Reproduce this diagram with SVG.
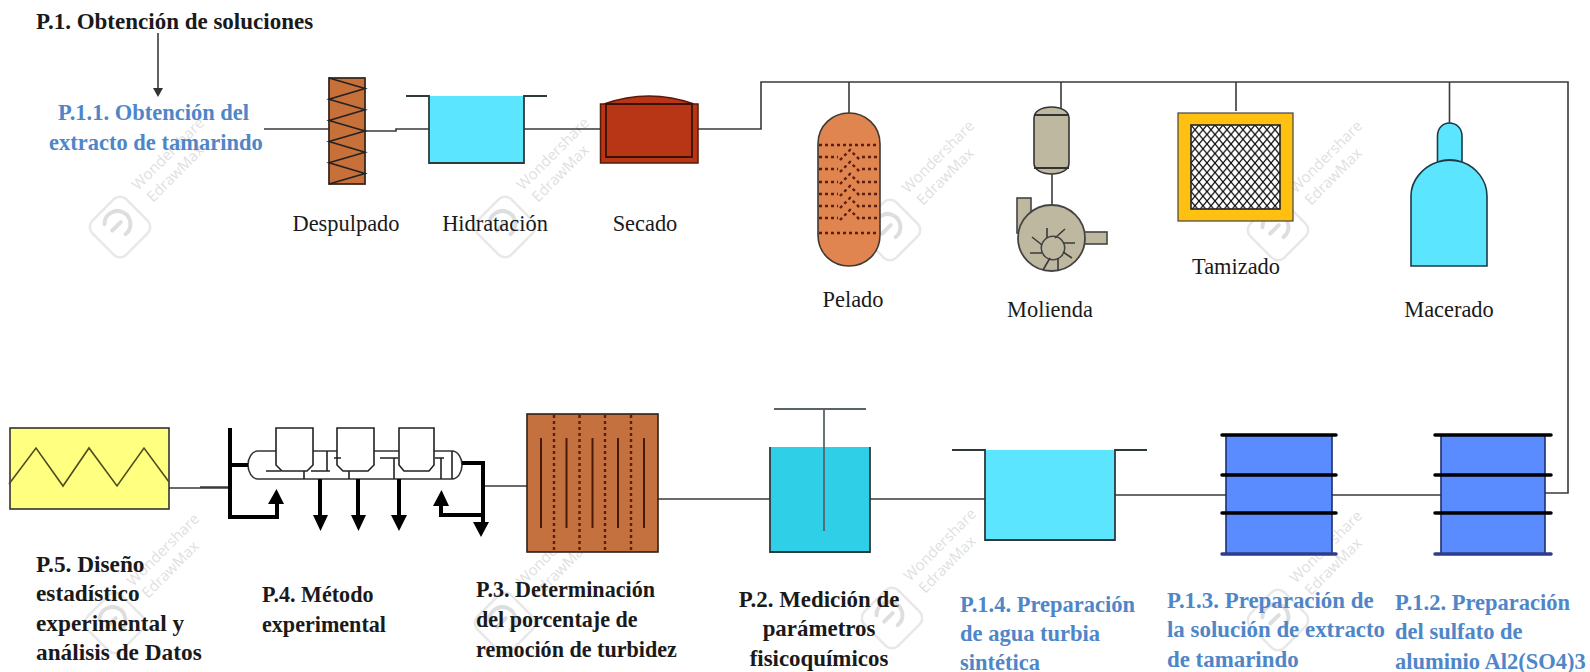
<svg xmlns="http://www.w3.org/2000/svg" xmlns:xlink="http://www.w3.org/1999/xlink" width="1590" height="672" viewBox="0 0 1590 672">
<style>
text{font-family:"Liberation Serif","Times New Roman",serif;fill:#1a1a1a}
.h{font-weight:bold;font-size:22.500px}
.b{font-weight:bold;font-size:22.500px;fill:#4f86c8}
.l{font-size:22.400px}
.c{text-anchor:middle}
.ln{fill:none;stroke:#3a3a3a;stroke-width:1.6}
.e{stroke:#2e3a3a;stroke-width:1.8}
.th{fill:none;stroke:#000;stroke-width:4}
.thin{fill:none;stroke:#222;stroke-width:1.6}
.ah{fill:#000}
.wm{font-family:"Open Sans","Liberation Sans",sans-serif;font-size:15px;fill:#dfdfdf}
.dot{fill:none;stroke:#5a1f10;stroke-width:2.400;stroke-dasharray:3 3}
.hoop{stroke:#000;stroke-width:3.500;stroke-linecap:round}
</style>
<defs>
<pattern id="mesh" width="8" height="9.500" patternUnits="userSpaceOnUse" x="1191" y="125">
<rect width="8" height="9.500" fill="#fff"/>
<path d="M0 0L8 9.500M8 0L0 9.500" stroke="#111" stroke-width="1.300"/>
</pattern>
<g id="wm">
<rect x="-24" y="-24" width="48" height="48" rx="9" transform="rotate(45)" fill="none" stroke="#e8e8e8" stroke-width="2.500"/>
<path d="M-9 -13A13 13 0 1 1 -1 9M-8 -3L4 -3" fill="none" stroke="#dedede" stroke-width="4" stroke-linecap="round" transform="rotate(-45)"/>
<text class="wm" transform="translate(18 -36) rotate(-45)">Wondershare</text>
<text class="wm" transform="translate(33 -24) rotate(-45)">EdrawMax</text>
</g>
</defs>
<g id="watermarks">
<use xlink:href="#wm" x="120" y="227"/><use xlink:href="#wm" x="505" y="227"/><use xlink:href="#wm" x="890" y="230"/><use xlink:href="#wm" x="1278" y="230"/>
<use xlink:href="#wm" x="115" y="623"/><use xlink:href="#wm" x="505" y="623"/><use xlink:href="#wm" x="892" y="618"/><use xlink:href="#wm" x="1278" y="620"/>
</g>
<g id="connectors">
<path class="ln" d="M158 33V90"/><path d="M153 88H163L158 97Z" fill="#333"/>
<path class="ln" d="M264 129H329M365 131H396V129H429M524 129H600M698 129H761V82H1568V493H1545"/>
<path class="ln" d="M849 82V113M1061 82V110M1236 82V111M1449.500 82V123"/>
<path class="ln" d="M169 488H228M200 487H228M483 486H527M656 499H770M869 499H985M1114 495H1226M1332 495H1441"/>
</g>
<g id="title"><text class="h" style="font-size:23px" x="36" y="29">P.1. Obtención de soluciones</text></g>
<g id="p11"><text class="b" x="58" y="120">P.1.1. Obtención del</text><text class="b" x="49" y="150">extracto de tamarindo</text></g>
<g id="despulpado">
<rect x="329" y="78" width="36" height="106" fill="#c8703a" stroke="#3a2a20" stroke-width="1.800"/>
<path class="thin" d="M329 78L365 88.600 329 99.200 365 109.800 329 120.400 365 131 329 141.600 365 152.200 329 162.800 365 173.400 329 184"/>
<text class="l c" x="346" y="231">Despulpado</text>
</g>
<g id="hidratacion">
<rect x="429" y="96" width="95" height="67" fill="#5ce5ff"/>
<path class="e" fill="none" d="M406 96H429V163H524V96H547"/>
<text class="l c" x="495" y="231">Hidratación</text>
</g>
<g id="secado">
<path d="M604 104Q649 88 694 104H698V163H600.500V104Z" fill="#b83515" stroke="#5a1a0a" stroke-width="1.500"/>
<path d="M606 104H692V157H606Z" fill="none" stroke="#3a1208" stroke-width="1.800"/>
<text class="l c" x="645" y="231">Secado</text>
</g>
<g id="pelado">
<path d="M818 144C818 125 833 113 849 113C865 113 880 125 880 144V235C880 254 865 266 849 266C833 266 818 254 818 235Z" fill="#e0854f" stroke="#3c3a34" stroke-width="1.600"/>
<path class="dot" d="M819 145H879M819 233H879M819 157H838M862 157H879M819 169H838M862 169H879M819 182H838M862 182H879M819 194H838M862 194H879M819 206H838M862 206H879M819 218H838M862 218H879"/>
<path class="dot" d="M840 160L850 150L860 160M840 172L850 162L860 172M840 184L850 174L860 184M840 196L850 186L860 196M840 208L850 198L860 208M840 220L850 210L860 220"/>
<text class="l c" x="853" y="307">Pelado</text>
</g>
<g id="molienda">
<path d="M1034 118C1034 111 1042 107 1051.500 107C1061 107 1069 111 1069 118V163C1069 170 1061 174 1051.500 174C1042 174 1034 170 1034 163Z" fill="#bfb8a0" stroke="#333" stroke-width="1.600"/>
<path d="M1034 115H1069M1034 168H1069" stroke="#333" stroke-width="1.800"/>
<path class="ln" d="M1052 174V205"/>
<rect x="1017" y="198" width="14" height="35" fill="#bfb8a0" stroke="#444" stroke-width="1.600"/>
<rect x="1083" y="232" width="24" height="12" fill="#bfb8a0" stroke="#444" stroke-width="1.600"/>
<ellipse cx="1051.500" cy="238" rx="33.500" ry="33" fill="#bfb8a0" stroke="#444" stroke-width="1.800"/>
<circle cx="1053" cy="248" r="11.700" fill="#bfb8a0" stroke="#444" stroke-width="1.600"/>
<path class="ln" d="M1047 228V238M1065 229L1055 238M1075 243H1063M1072 258L1063 252M1058 270V258M1043 270L1050 258M1030 253H1042M1032 237L1042 245"/>
<text class="l c" x="1050" y="317">Molienda</text>
</g>
<g id="tamizado">
<rect x="1178" y="113" width="115" height="108" fill="#ffc012" stroke="#444" stroke-width="1.200"/>
<rect x="1191" y="125" width="89" height="84" fill="url(#mesh)" stroke="#222" stroke-width="1.600"/>
<text class="l c" x="1236" y="274">Tamizado</text>
</g>
<g id="macerado">
<path d="M1437.500 162V136C1437.500 128 1443 123 1449.500 123C1456 123 1462 128 1462 136V162C1476 167 1487 180 1487 196V266H1411V196C1411 180 1423 167 1437.500 162Z" fill="#5ce5ff" stroke="#1f3a44" stroke-width="1.600"/>
<path d="M1437.500 162Q1449.500 158 1462 162" fill="none" stroke="#1f3a44" stroke-width="1.800"/>
<text class="l c" x="1449" y="317">Macerado</text>
</g>
<g id="p5">
<rect x="10" y="428" width="159" height="81" fill="#ffff80" stroke="#333" stroke-width="1.600"/>
<path d="M9 484L36 448 63 486 89 448 117 486 144 448 169 482" fill="none" stroke="#4d4d20" stroke-width="1.600"/>
<g style="font-size:23px"><text class="h" style="font-size:23.300px" x="36" y="572">P.5. Diseño</text><text class="h" style="font-size:23.300px" x="36" y="601">estadístico</text><text class="h" style="font-size:23.300px" x="36" y="631">experimental y</text><text class="h" style="font-size:23.300px" x="36" y="660">análisis de Datos</text></g>
</g>
<g id="p4">
<path d="M262 451H258C252 451 248 458 248 465C248 472 252 479 258 479H452C458 479 462 472 462 465C462 458 458 451 452 451Z" fill="#fff" stroke="#333" stroke-width="1.600"/>
<path d="M276 428H313V465L307 471H282L276 465Z" fill="#fff" stroke="#222" stroke-width="1.600"/>
<path d="M337 428H374V465L368 471H343L337 465Z" fill="#fff" stroke="#222" stroke-width="1.600"/>
<path d="M399 428H434V465L429 471H404L399 465Z" fill="#fff" stroke="#222" stroke-width="1.600"/>
<path d="M266 471H281M311 471H330M327 451V471M304 471V479M349 471V479M334 458H341M380 458H398M394 458V479M435 458H444M441 458V479M452 451V479" fill="none" stroke="#222" stroke-width="1.600"/>
<path class="th" d="M230 428V517H277V500M230 465H248M320 479V518M358 479V518M399 479V518M462 463H483V524M483 515H441V502"/>
<path class="ah" d="M268 504H284L276.500 489ZM313 515H328L320.500 531ZM351 515H366L358.500 531ZM391 515H407L399 531ZM473 522H489L481 537ZM433 506H449L441.500 490Z"/>
<text class="h" style="font-size:22.100px" x="262" y="602">P.4. Método</text><text class="h" style="font-size:22.100px" x="262" y="632">experimental</text>
</g>
<g id="p3">
<rect x="527" y="414" width="131" height="138" fill="#c4703f" stroke="#2e2018" stroke-width="1.600"/>
<path d="M541 438V528M566.500 438V528M592.500 438V528M618 438V528M644 438V528" stroke="#4a1a08" stroke-width="2"/>
<path class="dot" d="M554 415V552M579.500 415V552M605 415V552M631 415V552"/>
<text class="h" style="font-size:22.100px" x="476" y="597">P.3. Determinación</text><text class="h" style="font-size:22.100px" x="476" y="627">del porcentaje de</text><text class="h" style="font-size:22.100px" x="476" y="657">remoción de turbidez</text>
</g>
<g id="p2">
<rect x="770" y="447" width="100" height="105" fill="#30cfe8"/>
<path class="e" fill="none" d="M770 447V552H870V447"/>
<path d="M774 409H866M824 409V531" fill="none" stroke="#5a6468" stroke-width="1.800"/>
<text class="h c" style="font-size:22.900px" x="819" y="607">P.2. Medición de</text><text class="h c" style="font-size:22.900px" x="819" y="636">parámetros</text><text class="h c" style="font-size:22.900px" x="819" y="666">fisicoquímicos</text>
</g>
<g id="p14">
<rect x="985" y="450" width="130" height="90" fill="#5ce5ff"/>
<path class="e" fill="none" d="M952 450H985V540H1115V450H1147"/>
<text class="b" x="960" y="612">P.1.4. Preparación</text><text class="b" x="960" y="641">de agua turbia</text><text class="b" x="960" y="670">sintética</text>
</g>
<g id="p13">
<rect x="1226" y="435" width="106" height="119" fill="#5b8cff" stroke="#1f2f70" stroke-width="1.600"/>
<path class="hoop" d="M1222 435H1336M1222 475H1336M1222 513H1336"/><path class="hoop" style="stroke:#2f3c8c" d="M1222 554H1336"/>
<text class="b" style="font-size:22.900px" x="1167" y="608">P.1.3. Preparación de</text><text class="b" style="font-size:22.900px" x="1167" y="637">la solución de extracto</text><text class="b" style="font-size:22.900px" x="1167" y="667">de tamarindo</text>
</g>
<g id="p12">
<rect x="1441" y="435" width="104" height="119" fill="#5b8cff" stroke="#1f2f70" stroke-width="1.600"/>
<path class="hoop" d="M1435 435H1551M1435 475H1551M1435 513H1551"/><path class="hoop" style="stroke:#2f3c8c" d="M1435 554H1551"/>
<text class="b" x="1395" y="610">P.1.2. Preparación</text><text class="b" x="1395" y="639">del sulfato de</text><text class="b" x="1395" y="669">aluminio Al2(SO4)3</text>
</g>
</svg>
